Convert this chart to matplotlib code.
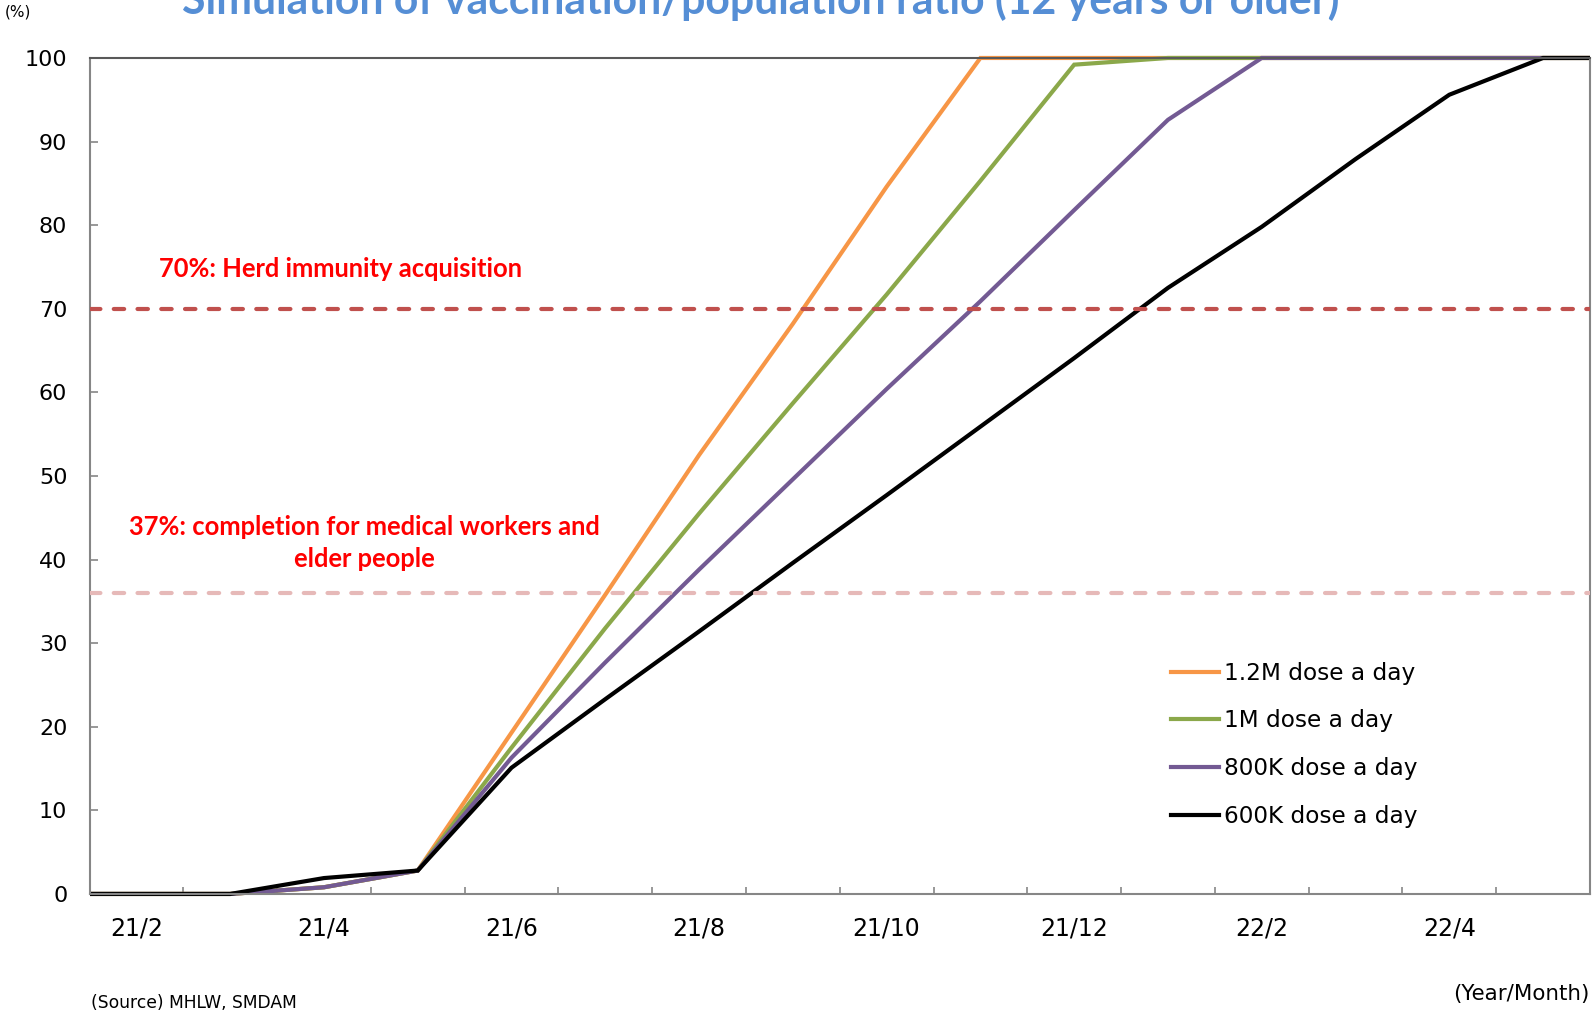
import numpy as np
import matplotlib
matplotlib.use("Agg")
from matplotlib import pyplot as plt
from matplotlib.patches import Rectangle

# monthly points; 21/1 and 22/6 only carry the lines out to the plot edges
months = ['21/1', '21/2', '21/3', '21/4', '21/5', '21/6', '21/7', '21/8', '21/9',
          '21/10', '21/11', '21/12', '22/1', '22/2', '22/3', '22/4', '22/5', '22/6']
tick_labels = ['21/2', '21/4', '21/6', '21/8', '21/10', '21/12', '22/2', '22/4']

dose_1200k = [0, 0, 0, 0.8, 2.8, 19.3, 35.8, 52.5, 68.2, 84.6, 100, 100, 100, 100, 100, 100, 100, 100]
dose_1000k = [0, 0, 0, 0.8, 2.8, 17.5, 31.8, 45.5, 58.7, 71.7, 85.3, 99.2, 100, 100, 100, 100, 100, 100]
dose_800k = [0, 0, 0, 0.8, 2.8, 16.3, 27.7, 38.8, 49.6, 60.4, 70.9, 81.8, 92.6, 100, 100, 100, 100, 100]
dose_600k = [0, 0, 0, 1.9, 2.8, 15.1, 23.3, 31.4, 39.6, 47.7, 55.9, 64.1, 72.5, 79.8, 87.9, 95.6, 100, 100]

series_names = ['1.2M dose a day', '1M dose a day', '800K dose a day', '600K dose a day']
series_colors = ['#F79646', '#8BA84A', '#735A93', '#000000']

herd_level = 70
medical_level = 36

fig = plt.figure(figsize=(15.96, 10.10), dpi=100)
ax = fig.add_axes([0.0561, 0.1149, 0.9401, 0.8277])

x = np.arange(len(months))
clip = Rectangle((0, -0.05), 1, 1.1, transform=ax.transAxes, visible=False)
ax.add_patch(clip)

handles = []
for vals, name, col in zip([dose_1200k, dose_1000k, dose_800k, dose_600k], series_names, series_colors):
    ln, = ax.plot(x, vals, color=col, lw=3.0, label=name, solid_joinstyle='miter')
    ln.set_clip_path(clip)
    handles.append(ln)

ax.axhline(herd_level, color='#C0504D', lw=3.0, dashes=(2.5, 3.2), dash_capstyle='round', zorder=5)
ax.axhline(medical_level, color='#E6B9B8', lw=3.0, dashes=(2.5, 3.2), dash_capstyle='round', zorder=5)

ax.set_xlim(0.5, len(months) - 1.5)
ax.set_ylim(0, 100)
ax.set_yticks(np.arange(0, 101, 10))
ax.set_xticks([months.index(t) for t in tick_labels])
ax.set_xticklabels(tick_labels)
ax.set_xticks(np.arange(0.5, len(months) - 1, 1), minor=True)
ax.tick_params(axis='x', which='major', length=0, pad=16, labelsize=17)
ax.tick_params(axis='x', which='minor', direction='in', length=5, color='#868686', width=1.2)
ax.tick_params(axis='y', direction='in', length=6, color='#868686', width=1.2, pad=16, labelsize=16)
for s in ['left', 'bottom', 'right']:
    ax.spines[s].set_color('#868686')
    ax.spines[s].set_linewidth(1.5)
ax.spines['top'].set_color('#595959')
ax.spines['top'].set_linewidth(1.5)

ax.text(0.1675, 0.748, '70%: Herd immunity acquisition', transform=ax.transAxes,
        ha='center', va='center', color='#FF0000', fontsize=18.4, fontweight='bold', family='Lato')
ax.text(0.1835, 0.42, '37%: completion for medical workers and\nelder people', transform=ax.transAxes,
        ha='center', va='center', color='#FF0000', fontsize=18.4, fontweight='bold', family='Lato',
        linespacing=1.4)

ax.legend(handles=handles, loc='center left', bbox_to_anchor=(0.7335, 0.2625),
          bbox_transform=fig.transFigure, frameon=False, fontsize=16.7,
          handlelength=2.1, handletextpad=0.2, labelspacing=1.07,
          borderpad=0, borderaxespad=0)

fig.text(0.4765, 0.986, 'Simulation of vaccination/population ratio (12 years or older)',
         ha='center', va='baseline', color='#558ED5', fontsize=30.8, fontweight='bold', family='Lato')
fig.text(0.003, 0.988, '(%)', ha='left', va='center', fontsize=11)
fig.text(0.057, 0.007, '(Source) MHLW, SMDAM', ha='left', va='center', fontsize=12.3)
fig.text(0.996, 0.016, '(Year/Month)', ha='right', va='center', fontsize=15.4)

fig.savefig('out.png', dpi=100)
